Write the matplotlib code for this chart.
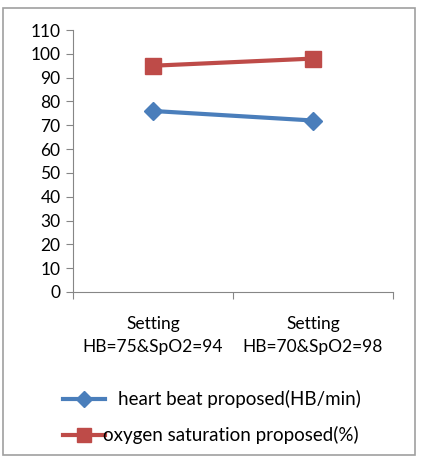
import matplotlib.pyplot as plt
from matplotlib.lines import Line2D
from matplotlib.patches import Rectangle

categories = ["Setting\nHB=75&SpO2=94", "Setting\nHB=70&SpO2=98"]
heart_beat = [76, 72]
oxygen_sat = [95, 98]
yticks = list(range(0, 111, 10))

plt.rcParams['font.family'] = ['Lato', 'DejaVu Sans']

fig = plt.figure(figsize=(4.21, 4.61), dpi=100)
ax = fig.add_axes([73 / 421, 1 - 292 / 461, 320 / 421, 262 / 461])

x = [0, 1]
blue = "#4A7EBB"
red = "#BE4B48"
ax.plot(x, heart_beat, color=blue, lw=3, marker="D", ms=9, mec=blue, mfc=blue)
ax.plot(x, oxygen_sat, color=red, lw=3, marker="s", ms=11, mec=red, mfc=red)

ax.set_xlim(-0.5, 1.5)
ax.set_ylim(0, 110)
ax.set_yticks(yticks)
ax.set_xticks([-0.5, 0.5, 1.5])
ax.set_xticklabels([])
ax.set_xticks(x, minor=True)
ax.set_xticklabels(categories, minor=True, fontsize=12.5, linespacing=1.6)
ax.tick_params(axis="x", which="minor", length=0, pad=17)
ax.tick_params(axis="x", which="major", length=5, color="#868686")
ax.tick_params(axis="y", length=5, color="#868686", labelsize=12.5, pad=4)
for s in ["top", "right"]:
    ax.spines[s].set_visible(False)
for s in ["left", "bottom"]:
    ax.spines[s].set_color("#868686")

# legend, stacked below the axes
fig.add_artist(Line2D([63 / 421, 84 / 421, 105 / 421], [1 - 399 / 461] * 3, color=blue, lw=3,
                      marker="D", ms=8, markevery=[1], transform=fig.transFigure))
fig.add_artist(Line2D([63 / 421, 84 / 421, 105 / 421], [1 - 435 / 461] * 3, color=red, lw=3,
                      marker="s", ms=10, markevery=[1], transform=fig.transFigure))
fig.text(361 / 421, 1 - 399 / 461, "heart beat proposed(HB/min)", fontsize=13.5,
         ha="right", va="center")
fig.text(359 / 421, 1 - 435 / 461, "oxygen saturation proposed(%)", fontsize=13.5,
         ha="right", va="center")

fig.add_artist(Rectangle((3 / 421, 6 / 461), 412 / 421, 447 / 461, fill=False,
                         edgecolor="#A0A0A0", lw=1.2, transform=fig.transFigure))

fig.savefig("out.png", dpi=100)
